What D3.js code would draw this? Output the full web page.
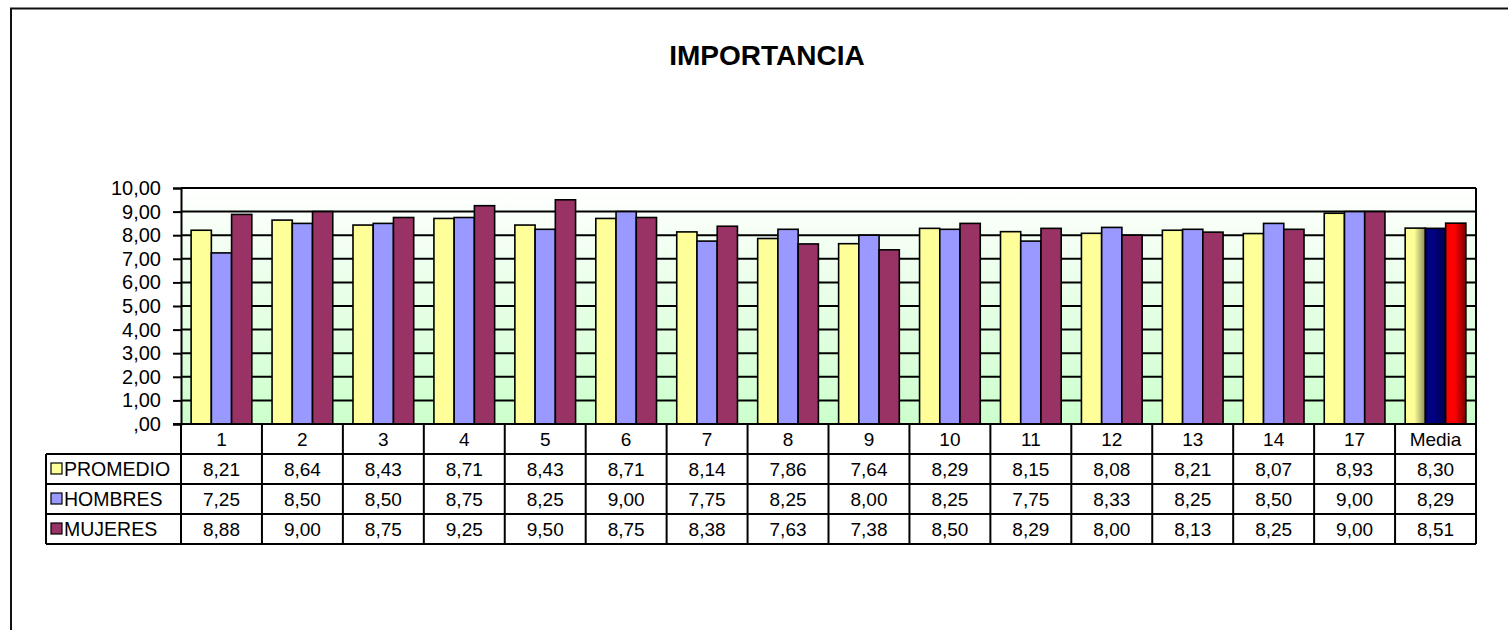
<!DOCTYPE html>
<html>
<head>
<meta charset="utf-8">
<script src="https://cdn.jsdelivr.net/npm/d3@7"></script>
<style>
  body { margin: 0; background: white; }
  text { font-family: "Liberation Sans", Arial, sans-serif; }
</style>
</head>
<body>
<div id="chart"></div>
<script>
const categories = ["1", "2", "3", "4", "5", "6", "7", "8", "9", "10", "11", "12", "13", "14", "17", "Media"];
const promedio = [8.21, 8.64, 8.43, 8.71, 8.43, 8.71, 8.14, 7.86, 7.64, 8.29, 8.15, 8.08, 8.21, 8.07, 8.93, 8.30];
const hombres  = [7.25, 8.50, 8.50, 8.75, 8.25, 9.00, 7.75, 8.25, 8.00, 8.25, 7.75, 8.33, 8.25, 8.50, 9.00, 8.29];
const mujeres  = [8.88, 9.00, 8.75, 9.25, 9.50, 8.75, 8.38, 7.63, 7.38, 8.50, 8.29, 8.00, 8.13, 8.25, 9.00, 8.51];
const seriesNames = ["PROMEDIO", "HOMBRES", "MUJERES"];
const yTicks = [0, 1, 2, 3, 4, 5, 6, 7, 8, 9, 10];

const W = 1508, H = 630,
plot = { left: 181, right: 1476, top: 188, bottom: 424 },
rowH = 30,
legendLeft = 46;

const colors = ["#ffff99", "#9999ff", "#993366"];
const series = [promedio, hombres, mujeres];
const fmt = v => v.toFixed(2).replace(".", ",");

const svg = d3.select("#chart").
append("svg").
attr("width", W).
attr("height", H);

const defs = svg.append("defs");

// plot background: white to pale green
const bg = defs.append("linearGradient").
attr("id", "bg").
attr("x1", "0").attr("y1", "0").attr("x2", "0").attr("y2", "1");
bg.append("stop").attr("offset", "0%").attr("stop-color", "#ffffff");
bg.append("stop").attr("offset", "100%").attr("stop-color", "#ccffcc");

// shaded gradients for the Media bars
const mediaGrad = [
  ["#ffff99", "#fdfd99", "#8c8c5a"],
  ["#000080", "#000080", "#00004a"],
  ["#ff0000", "#ff0000", "#7a0000"]];
mediaGrad.forEach((c, i) => {
  const g = defs.append("linearGradient").
  attr("id", "media" + i).
  attr("x1", "0").attr("y1", "0").attr("x2", "1").attr("y2", "0");
  g.append("stop").attr("offset", "0%").attr("stop-color", c[0]);
  g.append("stop").attr("offset", "45%").attr("stop-color", c[1]);
  g.append("stop").attr("offset", "100%").attr("stop-color", c[2]);
});

// outer frame (cut by the window on right and bottom)
svg.append("rect").
attr("x", 11).
attr("y", 8.5).
attr("width", W + 20).
attr("height", H + 20).
attr("fill", "none").
attr("stroke", "#111").
attr("stroke-width", 2);

svg.append("text").
attr("x", 767).
attr("y", 65).
attr("text-anchor", "middle").
style("font-size", "28px").
style("font-weight", "bold").
text("IMPORTANCIA");

const x = d3.scaleBand().
domain(categories).
range([plot.left, plot.right]);

const xInner = d3.scaleBand().
domain(seriesNames).
range([0, x.bandwidth()]).
paddingOuter(0.5).
paddingInner(0);

const y = d3.scaleLinear().
domain([0, 10]).
range([plot.bottom, plot.top]);

svg.append("rect").
attr("x", plot.left).
attr("y", plot.top).
attr("width", plot.right - plot.left).
attr("height", plot.bottom - plot.top).
attr("fill", "url(#bg)");

// gridlines
svg.append("g").
selectAll("line").
data(yTicks.filter(d => d > 0)).
join("line").
attr("x1", plot.left).
attr("x2", plot.right).
attr("y1", d => y(d)).
attr("y2", d => y(d)).
attr("stroke", "#000").
attr("stroke-width", 2);

// bars
const groups = svg.append("g").
selectAll("g").
data(categories).
join("g").
attr("transform", d => `translate(${x(d)},0)`);

groups.selectAll("rect").
data((c, ci) => seriesNames.map((s, si) => ({ s, si, ci, v: series[si][ci], media: c === "Media" }))).
join("rect").
attr("x", d => xInner(d.s)).
attr("width", xInner.bandwidth()).
attr("y", d => y(d.v)).
attr("height", d => y(0) - y(d.v)).
attr("fill", d => d.media ? `url(#media${d.si})` : colors[d.si]).
attr("stroke", "#000").
attr("stroke-width", 1.6);

// right border of plot
svg.append("line").
attr("x1", plot.right).attr("x2", plot.right).
attr("y1", plot.top).attr("y2", plot.bottom).
attr("stroke", "#000").attr("stroke-width", 2);

// y axis
const yAxis = svg.append("g").
attr("transform", `translate(${plot.left},0)`).
call(d3.axisLeft(y).
tickValues(yTicks).
tickSize(8).
tickPadding(12).
tickFormat(d => d === 0 ? ",00" : fmt(d)));
yAxis.selectAll("path, line").attr("stroke", "#000").attr("stroke-width", 2);
yAxis.selectAll("text").
style("font-size", "20px").
style("font-family", "Liberation Sans, Arial, sans-serif").
attr("fill", "#000");

// data table
const table = svg.append("g");
const tableBottom = plot.bottom + rowH * 4;

// horizontal rules
table.append("line").
attr("x1", plot.left - 8).attr("x2", plot.right).
attr("y1", plot.bottom).attr("y2", plot.bottom).
attr("stroke", "#000").attr("stroke-width", 2);
[1, 2, 3, 4].forEach(r => {
  table.append("line").
  attr("x1", legendLeft).attr("x2", plot.right).
  attr("y1", plot.bottom + r * rowH).attr("y2", plot.bottom + r * rowH).
  attr("stroke", "#000").attr("stroke-width", 2);
});

// vertical rules
table.append("line").
attr("x1", legendLeft).attr("x2", legendLeft).
attr("y1", plot.bottom + rowH).attr("y2", tableBottom).
attr("stroke", "#000").attr("stroke-width", 2);
table.selectAll("line.col").
data(categories.map(c => x(c)).concat([plot.right])).
join("line").
attr("class", "col").
attr("x1", d => d).attr("x2", d => d).
attr("y1", plot.bottom).attr("y2", tableBottom).
attr("stroke", "#000").attr("stroke-width", 2);

// category labels
table.selectAll("text.cat").
data(categories).
join("text").
attr("class", "cat").
attr("x", d => x(d) + x.bandwidth() / 2).
attr("y", plot.bottom + rowH / 2 + 7).
attr("text-anchor", "middle").
style("font-size", "19px").
text(d => d);

// series rows
seriesNames.forEach((name, si) => {
  const rowY = plot.bottom + rowH * (si + 1);
  table.append("rect").
  attr("x", legendLeft + 5).
  attr("y", rowY + rowH / 2 - 6).
  attr("width", 11).
  attr("height", 11).
  attr("fill", colors[si]).
  attr("stroke", "#000").
  attr("stroke-width", 1.2);
  table.append("text").
  attr("x", legendLeft + 18).
  attr("y", rowY + rowH / 2 + 7).
  style("font-size", "19.5px").
  text(name);
  table.selectAll("text.v" + si).
  data(series[si]).
  join("text").
  attr("class", "v" + si).
  attr("x", (d, i) => x(categories[i]) + x.bandwidth() / 2).
  attr("y", rowY + rowH / 2 + 7).
  attr("text-anchor", "middle").
  style("font-size", "19px").
  text(d => fmt(d));
});
</script>
</body>
</html>
